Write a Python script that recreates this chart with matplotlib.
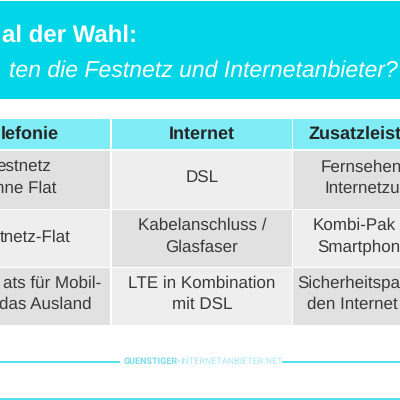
import matplotlib
matplotlib.use("Agg")
import matplotlib.pyplot as plt
from matplotlib.patches import Rectangle

plt.rcParams["text.hinting"] = "no_hinting"
plt.rcParams["text.hinting_factor"] = 1

# only the parts of the words that are visible in the crop
title_line = "al der Wahl:"
subtitle_line = "ten die Festnetz und Internetanbieter?"
headers = ["lefonie", "Internet", "Zusatzleist"]
col1_lines = [["estnetz", "hne Flat"], ["tnetz-Flat"], ["ats für Mobil-", "das Ausland"]]
col2_lines = [["DSL"], ["Kabelanschluss /", "Glasfaser"], ["LTE in Kombination", "mit DSL"]]
col3_lines = [["Fernsehen", "Internetzu"], ["Kombi-Pak", "Smartphon"], ["Sicherheitspa", "den Internet"]]
watermark_bold = "GUENSTIGER-"
watermark_light = "INTERNETANBIETER.NET"

CYAN = "#00d6e8"
HEADER = "#80ecf5"
DARK = "#e1e1e1"
LIGHT = "#eeeeee"
TEXT = "#3a3a3a"

fig = plt.figure(figsize=(4, 4), dpi=100)
ax = fig.add_axes([0, 0, 1, 1])
ax.set_xlim(0, 400)
ax.set_ylim(400, 0)
ax.axis("off")

# banner
ax.add_patch(Rectangle((0, 1), 400, 98, color=CYAN, lw=0))
ax.text(137, 42, title_line, ha="right", va="baseline", color="white", fontsize=17.4,
        fontweight="bold", family="Liberation Sans")
ax.text(398, 77, subtitle_line, ha="right", va="baseline", color="white", fontsize=16.9,
        style="italic", family="Liberation Sans")

# table cells
col_x = [-72, 111.5, 293]
col_w = [182, 180, 182]
row_y = [150.5, 209.5, 267.5]
row_h = [58, 57, 57]

for c in range(3):
    ax.add_patch(Rectangle((col_x[c], 118.5), col_w[c], 30.5, color=HEADER, lw=0))
    for r in range(3):
        shade = DARK if (r + c) % 2 == 0 else LIGHT
        ax.add_patch(Rectangle((col_x[c], row_y[r]), col_w[c], row_h[r], color=shade, lw=0))

header_font = dict(va="center", color="#262626", fontsize=13, fontweight="bold", family="Liberation Sans")
ax.text(59, 134, headers[0], ha="right", **header_font)
ax.text(202, 134, headers[1], ha="center", **header_font)
ax.text(308, 134, headers[2], ha="left", **header_font)

# y of each text line, per row
line_y = [[167, 188], [225, 247], [283, 304]]
single_y = [178, 237, 296]
col1_right = [[51, 56], [71], [101, 92]]
col3_left = [[321, 324], [313, 317], [297, 307]]

cell_font = dict(va="center", color=TEXT, fontsize=12.6, family="Liberation Sans")
for r in range(3):
    for i, label in enumerate(col1_lines[r]):
        y = line_y[r][i] if len(col1_lines[r]) == 2 else single_y[r]
        ax.text(col1_right[r][i], y, label, ha="right", **cell_font)
    for i, label in enumerate(col2_lines[r]):
        y = line_y[r][i] if len(col2_lines[r]) == 2 else single_y[r]
        ax.text(202, y, label, ha="center", **cell_font)
    for i, label in enumerate(col3_lines[r]):
        ax.text(col3_left[r][i], line_y[r][i], label, ha="left", **cell_font)

# footer
ax.plot([0, 119], [361.5, 361.5], color="#2fdcec", lw=1.2)
ax.plot([283, 400], [361.5, 361.5], color="#2fdcec", lw=1.2)
ax.plot([0, 400], [399.3, 399.3], color="#2fdcec", lw=1.2)
ax.text(124, 361.5, watermark_bold, ha="left", va="center", color="#7cdcf0", fontsize=6.3,
        fontweight="bold", family="Roboto")
ax.text(180, 361.5, watermark_light, ha="left", va="center", color="#a8e8f4", fontsize=6.3,
        family="Roboto")

fig.savefig("out.png", dpi=100)
